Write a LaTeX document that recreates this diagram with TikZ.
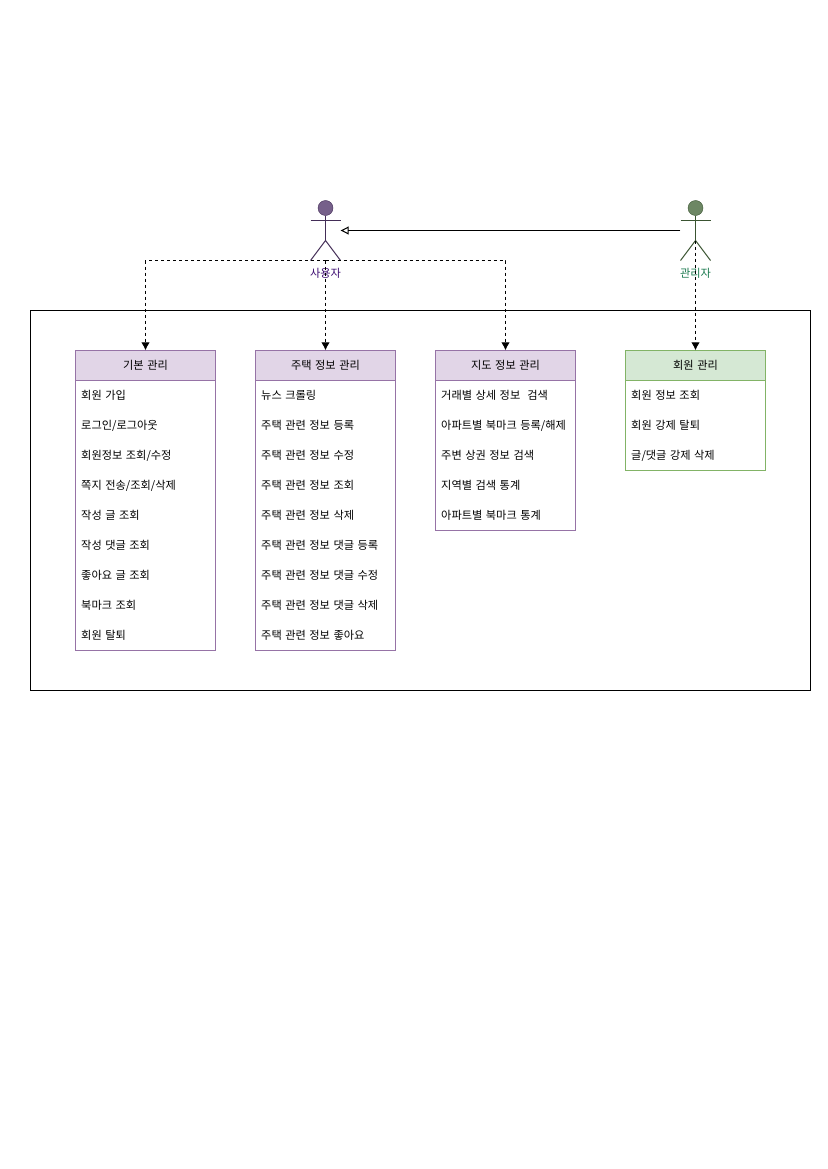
\documentclass[tikz,border=0pt]{standalone}
\usepackage{fontspec}
\setmainfont[WordSpace=1.4]{Noto Sans CJK KR}
\usetikzlibrary{arrows.meta}
\definecolor{pfill}{HTML}{E1D5E7}\definecolor{pline}{HTML}{9673A6}
\definecolor{gfill}{HTML}{D5E8D4}\definecolor{gline}{HTML}{82B366}
\definecolor{ahp}{HTML}{76608A}\definecolor{alp}{HTML}{432D57}\definecolor{atp}{HTML}{3F0F73}
\definecolor{ahg}{HTML}{6D8764}\definecolor{alg}{HTML}{3A5431}\definecolor{atg}{HTML}{1B7A4F}
\tikzset{
 x=1pt,y=-1pt,line width=1pt,
 outerbox/.style={draw=black,minimum width=780pt,minimum height=380pt,inner sep=0pt},
 hdr/.style={minimum width=140pt,minimum height=30pt,inner sep=0pt,text height=9.8pt,text depth=1.2pt,font=\fontsize{11.2}{12}\selectfont},
 purplehdr/.style={hdr,draw=pline,fill=pfill},
 greenhdr/.style={hdr,draw=gline,fill=gfill},
 bodybox/.style={minimum width=140pt,inner sep=0pt,fill=white},
 itm/.style={anchor=west,inner sep=0pt,text height=9pt,text depth=2pt,font=\fontsize{11.2}{12}\selectfont},
 actorbox/.style={minimum width=30pt,minimum height=60pt,inner sep=0pt},
 head/.style={circle,minimum size=15pt,inner sep=0pt,draw},
 limbs/.style={line width=1pt,line cap=butt},
 actlabel/.style={inner sep=0pt,text height=9pt,text depth=2pt,font=\fontsize{11.2}{12}\selectfont},
 dep/.style={dash pattern=on 3pt off 3pt,line width=1pt,-{Latex[length=8pt,width=8.5pt]}},
 inh/.style={line width=1pt,-{Triangle[open,length=8pt,width=8pt]}},
}
\newcommand{\items}[3]{% key, x, list
 \foreach \t [count=\i from 0] in {#3} {\node[itm] (#1-\i) at (#2,396.3+30*\i) {\t};}}
\begin{document}
\begin{tikzpicture}
\useasboundingbox (0,0) rectangle (827,1169);
\fill[white] (0,0) rectangle (827,1169);
\node[outerbox] (system) at (420.5,500.5) {};
% boxes
\node[bodybox,draw=pline,minimum height=300pt] (b1) at (145.5,500.5) {};
\node[purplehdr] (h1) at (145.5,365.5) {기본 관리};
\node[bodybox,draw=pline,minimum height=300pt] (b2) at (325.5,500.5) {};
\node[purplehdr] (h2) at (325.5,365.5) {주택 정보 관리};
\node[bodybox,draw=pline,minimum height=180pt] (b3) at (505.5,440.5) {};
\node[purplehdr] (h3) at (505.5,365.5) {지도 정보 관리};
\node[bodybox,draw=gline,minimum height=120pt] (b4) at (695.5,410.5) {};
\node[greenhdr] (h4) at (695.5,365.5) {회원 관리};
\items{a}{81}{회원 가입,로그인/로그아웃,회원정보 조회/수정,쪽지 전송/조회/삭제,작성 글 조회,작성 댓글 조회,좋아요 글 조회,북마크 조회,회원 탈퇴}
\items{c}{261}{뉴스 크롤링,주택 관련 정보 등록,주택 관련 정보 수정,주택 관련 정보 조회,주택 관련 정보 삭제,주택 관련 정보 댓글 등록,주택 관련 정보 댓글 수정,주택 관련 정보 댓글 삭제,주택 관련 정보 좋아요}
\items{d}{441}{거래별 상세 정보\ \ 검색,아파트별 북마크 등록/해제,주변 상권 정보 검색,지역별 검색 통계,아파트별 북마크 통계}
\items{e}{631}{회원 정보 조회,회원 강제 탈퇴,글/댓글 강제 삭제}
% actors
\node[actorbox] (user) at (325.5,230.5) {};
\node[head,draw=alp,fill=ahp] (userhead) at (325.5,208) {};
\draw[limbs,draw=alp] (userhead.south) -- (325.5,240.5);
\draw[limbs,draw=alp] (310.5,220.5) -- (340.5,220.5);
\draw[limbs,draw=alp] (310.5,260.5) -- (325.5,240.5) -- (340.5,260.5);
\node[actlabel,text=atp] (userlabel) at (325.5,273.6) {사용자};
\node[actorbox] (admin) at (695.5,230.5) {};
\node[head,draw=alg,fill=ahg] (adminhead) at (695.5,208) {};
\draw[limbs,draw=alg] (adminhead.south) -- (695.5,240.5);
\draw[limbs,draw=alg] (680.5,220.5) -- (710.5,220.5);
\draw[limbs,draw=alg] (680.5,260.5) -- (695.5,240.5) -- (710.5,260.5);
\node[actlabel,text=atg] (adminlabel) at (695.5,273.6) {관리자};
\coordinate (adminhip) at (695.5,240.5);
% connectors
\draw[inh] (admin.west) -- (user.east);
\draw[dep] (user.south) -- ++(-180,0) -- (h1.north);
\draw[dep] (user.south) -- (h2.north);
\draw[dep] (user.south) -- ++(180,0) -- (h3.north);
\draw[dep] (adminhip) -- (h4.north);
\end{tikzpicture}
\end{document}
